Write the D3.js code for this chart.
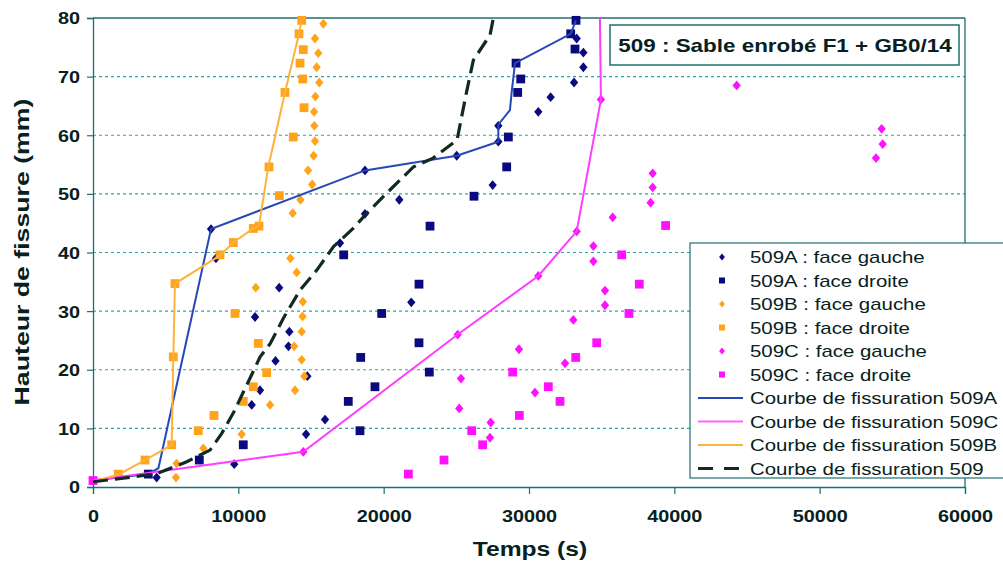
<!DOCTYPE html>
<html><head><meta charset="utf-8">
<script src="https://cdn.jsdelivr.net/npm/d3@7"></script>
<style>body{margin:0;background:#fff} svg{display:block}</style>
</head><body>
<svg id="c" width="1003" height="568"></svg>
<script>
// ---------- data ----------
const xTicks = [0, 10000, 20000, 30000, 40000, 50000, 60000];
const yTicks = [0, 10, 20, 30, 40, 50, 60, 70, 80];
const gridValues = [10, 20, 30, 40, 50, 60, 70];
const chartTitle = "509 : Sable enrobé F1 + GB0/14";
const xTitle = "Temps (s)";
const yTitle = "Hauteur de fissure (mm)";

const a509Gauche = [[4380,1.6],[9720,3.9],[14660,9.0],[15965,11.5],[10920,14.0],[11490,16.5],[14750,18.9],[12560,21.5],[13450,24.0],[13510,26.5],[11150,29.0],[21900,31.5],[12810,34.0],[8460,39.0],[8120,44.0],[16995,41.6],[18715,46.6],[21075,49.0],[27500,51.5],[18715,54.0],[25025,56.5],[27890,58.9],[27890,61.6],[30640,64.0],[31490,66.5],[33100,69.0],[33740,71.6],[33740,74.1],[33280,76.5]];
const a509Droite = [[3805,2.2],[7315,4.6],[10340,7.2],[18370,9.6],[17565,14.6],[19400,17.1],[23140,19.6],[18420,22.1],[22430,24.6],[19865,29.6],[22430,34.6],[17250,39.6],[23190,44.5],[26215,49.6],[28465,54.6],[28580,59.7],[29220,67.3],[29430,69.6],[29110,72.3],[33165,74.7],[32870,77.3],[33235,79.6]];
const b509Gauche = [[5710,1.6],[5750,4.0],[7590,6.6],[10230,9.0],[12180,14.0],[13900,16.5],[14540,18.9],[14360,21.7],[13840,24.0],[14360,26.5],[14420,29.1],[14440,31.6],[11200,34.0],[14015,36.6],[13580,39.0],[13740,46.7],[14270,49.0],[15080,51.6],[14800,54.0],[15180,56.5],[15275,59.0],[15230,61.6],[15210,64.0],[15300,66.6],[15570,69.0],[15390,71.6],[15500,74.0],[15275,76.5],[15850,79.0]];
const b509Droite = [[1740,2.2],[3580,4.6],[5415,7.2],[7245,9.6],[8325,12.2],[10340,14.6],[11030,17.1],[11950,19.5],[5525,22.2],[11375,24.5],[9770,29.6],[5640,34.7],[8740,39.6],[9655,41.7],[11030,44.1],[11420,44.5],[12820,49.7],[12110,54.6],[13780,59.7],[14520,64.7],[13210,67.3],[14430,69.6],[14245,72.3],[14470,74.6],[14175,77.3],[14360,79.6]];
const c509Gauche = [[14470,6.0],[27315,8.4],[27365,11.0],[25200,13.4],[30410,16.1],[25320,18.5],[32480,21.1],[29310,23.5],[25095,26.0],[33050,28.5],[35230,31.0],[35230,33.5],[30640,36.0],[34430,38.5],[34430,41.1],[33280,43.6],[35760,46.0],[38370,48.5],[38510,51.1],[38510,53.5],[53875,56.1],[54335,58.5],[54265,61.1],[34950,66.1],[44290,68.5]];
const c509Droite = [[0,1.1],[21700,2.2],[24150,4.6],[26810,7.2],[26060,9.6],[29335,12.2],[32135,14.6],[31330,17.1],[28880,19.6],[33215,22.1],[34660,24.6],[36880,29.6],[37590,34.6],[36380,39.6],[39400,44.6]];

const curve509A = [[0,1.1],[3800,2.2],[4500,3.2],[8120,44.0],[18715,54.0],[25025,56.5],[27890,58.9],[27890,61.8],[28690,64.3],[28800,67.2],[29040,72.3],[32870,77.3],[33235,79.6]];
const curve509C = [[0,1.1],[14470,6.0],[25095,26.0],[30640,36.0],[33280,43.6],[34950,66.1],[34880,80]];
const curve509B = [[0,1.0],[1740,2.1],[3580,4.6],[5415,7.2],[5525,22.2],[5640,34.7],[8740,39.5],[9655,41.7],[11030,44.1],[11420,44.6],[12060,54.6],[13210,67.3],[14175,77.3],[14360,79.6]];
const curve509 = [[0,0.9],[2100,1.5],[4400,2.3],[6450,4.3],[8050,6.3],[8850,9.1],[9650,12.6],[10580,17.4],[11500,22.2],[12200,24.5],[13100,28.8],[14250,33.6],[15400,37.0],[16550,41.0],[17900,44.1],[18850,46.7],[20200,50.1],[22050,54.6],[23400,56.1],[25050,59.2],[25730,67.7],[26170,72.8],[27320,77.1],[27550,80]];

const legendLabels = ["509A : face gauche","509A : face droite","509B : face gauche","509B : face droite","509C : face gauche","509C : face droite","Courbe de fissuration 509A","Courbe de fissuration 509C","Courbe de fissuration 509B","Courbe de fissuration 509"];

// ---------- styles ----------
const NAVY = "#0a0a7e", ORANGE = "#ffa31a", MAGENTA = "#ff10ff";
const TEXT = "#072020", AXIS = "#1f6f6f", GRID = "#2aa5a5";
const FONT = "'Liberation Sans', Arial, sans-serif";
const STRETCH = 1.2;

const svg = d3.select("#c");
const x = d3.scaleLinear().domain([0, 60000]).range([93, 965]);
const y = d3.scaleLinear().domain([0, 80]).range([487, 18]);

function stretch(sel, f) {
  sel.each(function () {
    const w = this.getComputedTextLength();
    d3.select(this).attr("textLength", w * f).attr("lengthAdjust", "spacingAndGlyphs");
  });
}

// grid
svg.append("g").selectAll("line").data(gridValues).join("line")
  .attr("x1", x(0)).attr("x2", x(60000))
  .attr("y1", d => y(d)).attr("y2", d => y(d))
  .attr("stroke", GRID).attr("stroke-width", 1.2).attr("stroke-dasharray", "3,3");

// frame (top / right)
svg.append("line").attr("x1", x(0)).attr("x2", x(60000)).attr("y1", y(80)).attr("y2", y(80))
  .attr("stroke", AXIS).attr("stroke-width", 1.3);
svg.append("line").attr("x1", x(60000)).attr("x2", x(60000)).attr("y1", y(80)).attr("y2", y(0))
  .attr("stroke", AXIS).attr("stroke-width", 1.3);

// axes
const gx = svg.append("g").attr("transform", `translate(0,${y(0)})`)
  .call(d3.axisBottom(x).tickValues(xTicks).tickFormat(d3.format("d")).tickSize(7).tickPadding(16));
const gy = svg.append("g").attr("transform", `translate(${x(0)},0)`)
  .call(d3.axisLeft(y).tickValues(yTicks).tickSize(6).tickPadding(7));
[gx, gy].forEach(g => {
  g.select(".domain").attr("stroke", AXIS).attr("stroke-width", 1.3);
  g.selectAll(".tick line").attr("stroke", AXIS).attr("stroke-width", 1.2);
  g.selectAll(".tick text").attr("fill", TEXT).style("font-family", FONT)
    .style("font-size", "16.5px").style("font-weight", "bold");
});
gy.selectAll(".tick text").attr("dy", "0.36em");
stretch(gx.selectAll(".tick text"), STRETCH);
stretch(gy.selectAll(".tick text"), STRETCH);

// axis titles
const xt = svg.append("text").attr("x", 530).attr("y", 556).attr("text-anchor", "middle")
  .attr("fill", TEXT).style("font-family", FONT).style("font-size", "20.5px").style("font-weight", "bold").text(xTitle);
stretch(xt, STRETCH);
const yt = svg.append("text").attr("transform", "translate(29,252) rotate(-90)").attr("text-anchor", "middle")
  .attr("fill", TEXT).style("font-family", FONT).style("font-size", "21px").style("font-weight", "bold").text(yTitle);
stretch(yt, 1.27);

// markers
const diamond = (s) => `M0,${-s}L${s*0.85},0L0,${s}L${-s*0.85},0Z`;
const square = (s) => `M${-s},${-s}H${s}V${s}H${-s}Z`;
function drawMarkers(data, shape, color) {
  svg.append("g").selectAll("path").data(data).join("path")
    .attr("transform", d => `translate(${x(d[0])},${y(d[1])})`)
    .attr("d", shape).attr("fill", color);
}
drawMarkers(a509Gauche, diamond(4.9), NAVY);
drawMarkers(a509Droite, square(4.4), NAVY);
drawMarkers(b509Gauche, diamond(4.9), ORANGE);
drawMarkers(b509Droite, square(4.4), ORANGE);
drawMarkers(c509Gauche, diamond(4.9), MAGENTA);
drawMarkers(c509Droite, square(4.4), MAGENTA);

// curves
const line = d3.line().x(d => x(d[0])).y(d => y(d[1]));
const curveStyles = [
  {data: curve509A, color: "#2748b5", w: 2, dash: null},
  {data: curve509C, color: "#ff3cff", w: 2, dash: null},
  {data: curve509B, color: "#ffb23a", w: 2, dash: null},
  {data: curve509, color: "#112a22", w: 3.2, dash: "15,7"}
];
curveStyles.forEach(c => {
  svg.append("path").datum(c.data).attr("d", line).attr("fill", "none")
    .attr("stroke", c.color).attr("stroke-width", c.w)
    .attr("stroke-dasharray", c.dash);
});

// title box
svg.append("rect").attr("x", 610).attr("y", 25).attr("width", 349).attr("height", 40)
  .attr("fill", "#fff").attr("stroke", AXIS).attr("stroke-width", 1.5);
const tt = svg.append("text").attr("x", 785).attr("y", 52).attr("text-anchor", "middle")
  .attr("fill", TEXT).style("font-family", FONT).style("font-size", "19px").style("font-weight", "bold").text(chartTitle);
stretch(tt, 1.18);

// legend
const lg = svg.append("g");
lg.append("rect").attr("x", 690).attr("y", 243).attr("width", 340).attr("height", 235)
  .attr("fill", "#fff").attr("stroke", AXIS).attr("stroke-width", 1.2);
const legendSymbols = [
  {type: "diamond", color: NAVY}, {type: "square", color: NAVY},
  {type: "diamond", color: ORANGE}, {type: "square", color: ORANGE},
  {type: "diamond", color: MAGENTA}, {type: "square", color: MAGENTA},
  {type: "line", color: "#2748b5"}, {type: "line", color: "#ff66ff"},
  {type: "line", color: "#ffb23a"}, {type: "dash", color: "#112a22"}
];
const rows = lg.selectAll("g.row").data(legendLabels).join("g").attr("class", "row")
  .attr("transform", (d, i) => `translate(0,${257 + i * 23.5})`);
rows.each(function (d, i) {
  const g = d3.select(this), s = legendSymbols[i];
  if (s.type === "diamond") g.append("path").attr("transform", "translate(722,0)").attr("d", diamond(3.4)).attr("fill", s.color);
  else if (s.type === "square") g.append("path").attr("transform", "translate(722,0)").attr("d", square(3)).attr("fill", s.color);
  else if (s.type === "line") g.append("line").attr("x1", 698).attr("x2", 743).attr("y1", 0).attr("y2", 0).attr("stroke", s.color).attr("stroke-width", 2.2);
  else g.append("line").attr("x1", 698).attr("x2", 744).attr("y1", 0).attr("y2", 0).attr("stroke", s.color).attr("stroke-width", 3).attr("stroke-dasharray", "15,11");
  g.append("text").attr("x", 750).attr("y", 6).attr("fill", TEXT)
    .style("font-family", FONT).style("font-size", "17px").text(d);
});
stretch(rows.selectAll("text"), STRETCH);
</script>
</body></html>
